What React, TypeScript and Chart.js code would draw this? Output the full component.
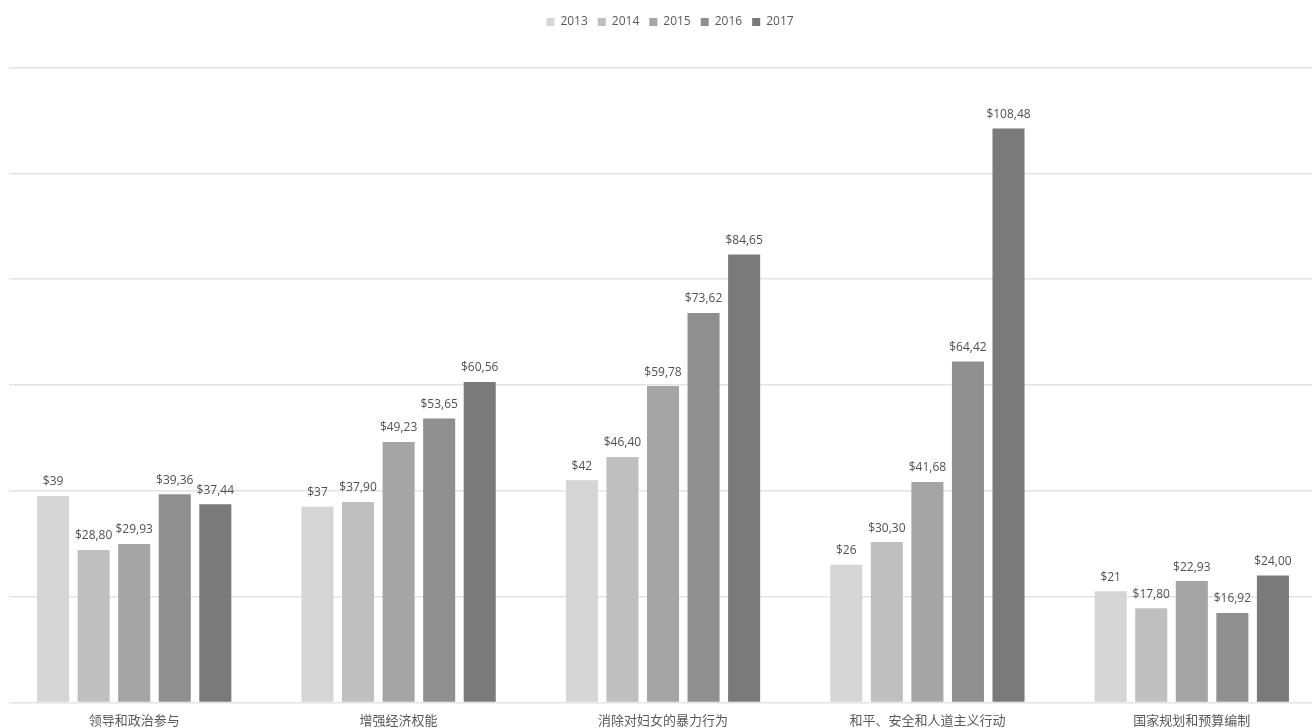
import React, { useEffect, useRef } from "react";
import { Chart, registerables } from "chart.js";

Chart.register(...registerables);

const categories = [
  "领导和政治参与",
  "增强经济权能",
  "消除对妇女的暴力行为",
  "和平、安全和人道主义行动",
  "国家规划和预算编制",
];
const years = ["2013", "2014", "2015", "2016", "2017"];
const v2013 = [39, 37, 42, 26, 21];
const v2014 = [28.8, 37.9, 46.4, 30.3, 17.8];
const v2015 = [29.93, 49.23, 59.78, 41.68, 22.93];
const v2016 = [39.36, 53.65, 73.62, 64.42, 16.92];
const v2017 = [37.44, 60.56, 84.65, 108.48, 24.0];
const labelDecimals = [0, 2, 2, 2, 2];
const colors = ["#d5d5d5", "#bfbfbf", "#a5a5a5", "#8f8f8f", "#7a7a7a"];
const yMax = 120;
const yStep = 20;

const FONT = "'Open Sans', 'Noto Sans', sans-serif";
const CJK = "'Noto Sans CJK SC', 'Open Sans', sans-serif";

function fmt(v: number, d: number) {
  return "$" + v.toFixed(d).replace(".", ",");
}

const valueLabels = {
  id: "valueLabels",
  afterDatasetsDraw(chart: any) {
    const ctx = chart.ctx;
    ctx.save();
    ctx.font = `12px ${FONT}`;
    ctx.fillStyle = "#505050";
    ctx.textAlign = "center";
    ctx.textBaseline = "middle";
    chart.data.datasets.forEach((ds: any, i: number) => {
      const meta = chart.getDatasetMeta(i);
      meta.data.forEach((el: any, j: number) => {
        ctx.fillText(fmt(ds.data[j], labelDecimals[i]), el.x, el.y - 14);
      });
    });
    ctx.restore();
  },
};

const legendGap = {
  id: "legendGap",
  beforeLayout(chart: any) {
    const lg = chart.legend;
    if (lg && !lg._gapPatched) {
      const orig = lg.fit;
      lg.fit = function () {
        orig.call(this);
        this.height += 29.5;
      };
      lg._gapPatched = true;
    }
  },
  afterLayout(chart: any) {
    const lg = chart.legend;
    if (lg) {
      lg.left += 7;
      lg.right += 7;
    }
  },
  beforeDatasetsDraw(chart: any) {
    const a = chart.chartArea;
    const ctx = chart.ctx;
    ctx.save();
    ctx.fillStyle = "#ffffff";
    ctx.fillRect(a.left, a.top - 3, 7, a.bottom - a.top + 6);
    ctx.restore();
  },
};

export default function App() {
  const ref = useRef<HTMLCanvasElement | null>(null);
  useEffect(() => {
    if (!ref.current) return;
    const series = [v2013, v2014, v2015, v2016, v2017];
    const chart = new Chart(ref.current, {
      type: "bar",
      data: {
        labels: categories,
        datasets: years.map((y, i) => ({
          label: y,
          data: series[i],
          backgroundColor: colors[i],
          borderWidth: 0,
          barPercentage: 0.79,
          categoryPercentage: 0.767,
        })),
      },
      options: {
        animation: false,
        responsive: false,
        layout: { padding: { top: 6, bottom: 0, left: 0, right: 0 } },
        plugins: {
          legend: {
            position: "top",
            labels: {
              boxWidth: 8,
              boxHeight: 8,
              padding: 10,
              color: "#595959",
              font: { family: FONT, size: 12 },
            },
          },
          tooltip: { enabled: false },
        },
        scales: {
          x: {
            grid: { display: false, drawTicks: false },
            border: { display: false },
            ticks: {
              color: "#595959",
              font: { family: CJK, size: 13 },
              padding: 10,
              maxRotation: 0,
            },
          },
          y: {
            min: 0,
            max: yMax,
            display: true,
            grid: { color: "#e3e3e3", lineWidth: 1.5, drawTicks: false },
            border: { display: false },
            ticks: { display: false, stepSize: yStep },
          },
        },
      },
      plugins: [valueLabels, legendGap],
    });
    return () => chart.destroy();
  }, []);
  return (
    <div
      style={{
        position: "fixed",
        left: 0,
        top: 0,
        width: 1312,
        height: 728,
        overflow: "hidden",
        background: "#fff",
      }}
    >
      <canvas
        ref={ref}
        width={1322}
        height={738}
        style={{ position: "absolute", left: 2, top: 0 }}
      />
    </div>
  );
}
